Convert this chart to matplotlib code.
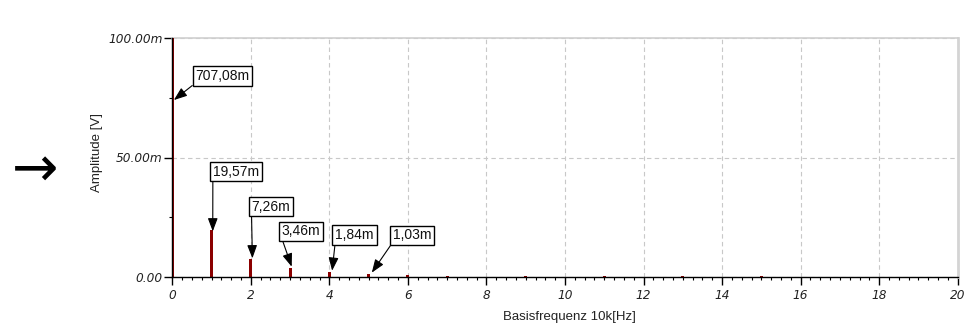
import matplotlib
matplotlib.use("Agg")
import matplotlib.pyplot as plt
from matplotlib.ticker import MultipleLocator, FixedLocator

# ---- data (amplitudes in mV, x in multiples of the 10 kHz base frequency) ----
harmonics = [0, 1, 2, 3, 4, 5, 6, 7, 9, 11, 13, 15]
amplitudes_m = [707.08, 19.57, 7.26, 3.46, 1.84, 1.03, 0.6, 0.45, 0.3, 0.25, 0.2, 0.15]

ann_labels = ["707,08m", "19,57m", "7,26m", "3,46m", "1,84m", "1,03m"]
ann_tip_x = [0.04, 1.03, 2.04, 3.04, 4.07, 5.08]
ann_tip_y = [74.1, 19.0, 7.7, 4.2, 2.5, 1.7]
ann_text_x = [1.28, 1.62, 2.51, 3.28, 4.64, 6.10]
ann_text_y = [84.2, 44.1, 29.4, 19.0, 17.5, 17.3]

y_ticks = [0, 50, 100]
y_tick_labels = ["0.00", "50.00m", "100.00m"]
x_ticks = list(range(0, 21, 2))

fig = plt.figure(figsize=(9.77, 3.26), dpi=100)
ax = fig.add_axes([172.3 / 977, 1 - 276.7 / 326, (957.7 - 172.3) / 977, (276.7 - 38.3) / 326])

ax.bar(harmonics, amplitudes_m, width=0.075, color="#8b0000", zorder=3)

ax.set_xlim(0, 20)
ax.set_ylim(0, 100)

ax.xaxis.set_major_locator(FixedLocator(x_ticks))
ax.xaxis.set_minor_locator(MultipleLocator(0.25))
ax.yaxis.set_major_locator(FixedLocator(y_ticks))
ax.yaxis.set_minor_locator(FixedLocator([25, 75]))
ax.set_yticklabels(y_tick_labels)

for lab in ax.get_xticklabels() + ax.get_yticklabels():
    lab.set_fontfamily("DejaVu Sans")
    lab.set_fontstyle("italic")
    lab.set_fontsize(8.7)
    lab.set_color("#222222")

ax.tick_params(axis="x", which="major", direction="out", length=6, width=1, pad=3, color="black")
ax.tick_params(axis="x", which="minor", direction="out", length=2, width=0.8, color="black")
ax.tick_params(axis="y", which="major", direction="out", length=6, width=1, pad=1, color="black")
ax.tick_params(axis="y", which="minor", direction="out", length=2.5, width=0.8, color="black")

ax.grid(True, which="major", linestyle=(0, (4, 3)), color="#c8c8c8", linewidth=0.8, zorder=0)
ax.set_axisbelow(True)

for s in ["left", "bottom"]:
    ax.spines[s].set_color("black")
    ax.spines[s].set_linewidth(1.0)
    ax.spines[s].set_zorder(4)
ax.spines["top"].set_color("#cfcfcf")
ax.spines["top"].set_linewidth(1.2)
ax.spines["right"].set_color("#d4d4d4")
ax.spines["right"].set_linewidth(2.0)

for lab, tx, ty, px, py in zip(ann_labels, ann_text_x, ann_text_y, ann_tip_x, ann_tip_y):
    ax.annotate(
        lab, xy=(px, py), xytext=(tx, ty), textcoords="data",
        ha="center", va="center",
        fontsize=10, family="Liberation Sans", color="#111111",
        bbox=dict(boxstyle="square,pad=0.2", fc="white", ec="black", lw=1.0),
        arrowprops=dict(arrowstyle="-|>,head_length=0.8,head_width=0.3",
                        color="black", lw=0.8, relpos=(0, 0),
                        shrinkA=0, shrinkB=0),
        zorder=5, annotation_clip=False,
    )

ax.set_ylabel("Amplitude [V]", fontsize=9.5, family="Liberation Sans", color="#222222")
ax.yaxis.set_label_coords(-0.088, 0.519)
ax.set_xlabel("Basisfrequenz 10k[Hz]", fontsize=9.5, family="Liberation Sans", color="#222222")
ax.xaxis.set_label_coords(0.506, -0.145)

fig.text(35 / 977, 1 - 171 / 326, "\u2192", fontsize=40, family="DejaVu Sans",
         ha="center", va="center", color="black")

fig.savefig("out.png", dpi=100)
